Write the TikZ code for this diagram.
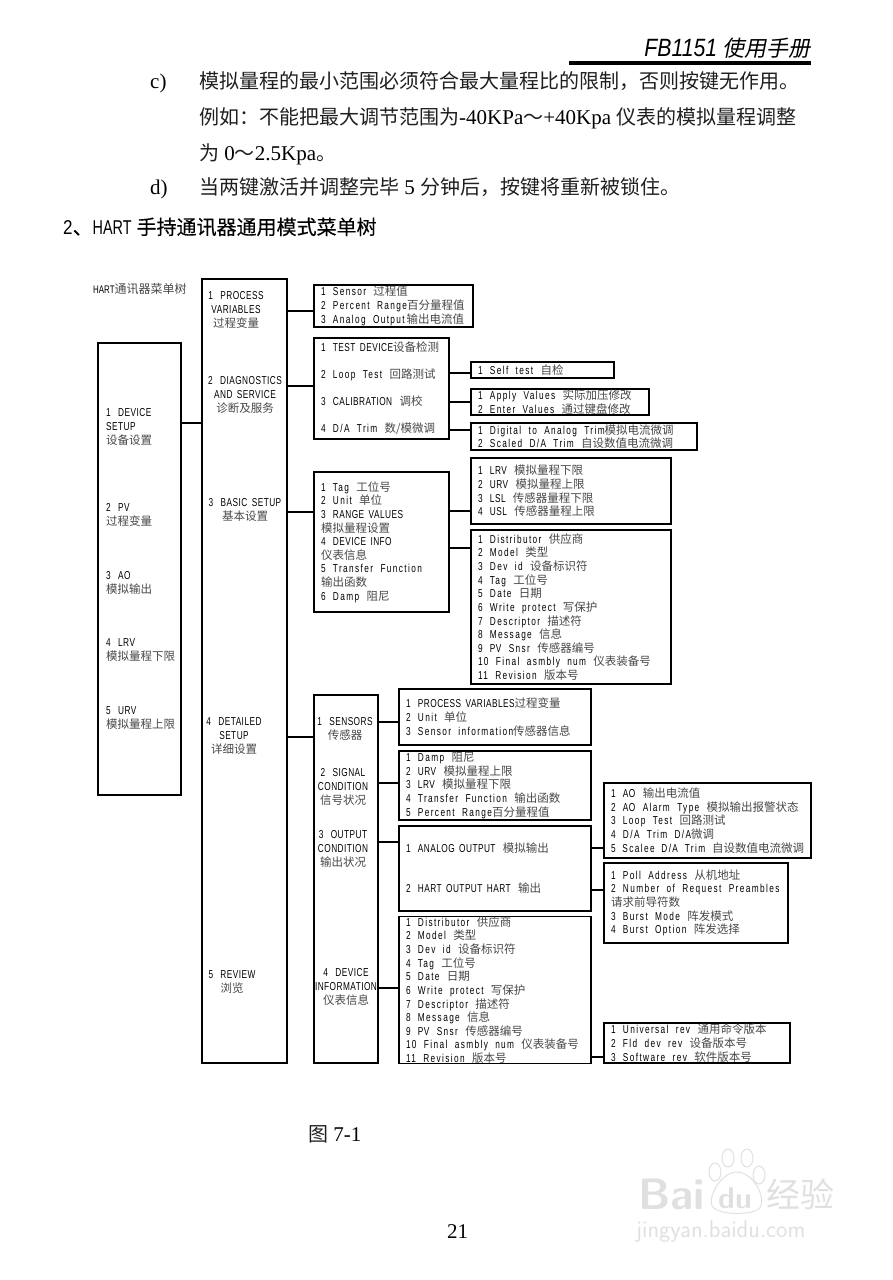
\documentclass[tikz,border=0pt]{standalone}
\usepackage{fontspec}
\usepackage{tikz}
\usetikzlibrary{positioning,calc}

\setmainfont{Liberation Serif}
\newfontfamily\menufont[FakeStretch=0.72,LetterSpace=12,WordSpace=2]{Liberation Sans}
\newfontfamily\capsfont[FakeStretch=0.72,LetterSpace=4,WordSpace=1.6]{Liberation Sans}
\newfontfamily\headfont[FakeStretch=0.85]{Liberation Sans}
\newfontfamily\titlefont[FakeStretch=0.72]{Liberation Sans}
\newfontfamily\cjkfont{Noto Sans CJK SC}
\newfontfamily\cjkhead[FakeBold=0.3]{Noto Sans CJK SC}
\newfontfamily\cjkslant[FakeSlant=0.2]{Noto Sans CJK SC}
\newcommand{\cn}[1]{{\cjkfont\fontsize{20}{24}\selectfont\color{black!88}#1}}
\newcommand{\zh}[1]{{\cjkfont\color{black!72}#1}}
\newcommand{\up}[1]{{\capsfont #1}}

\tikzset{
  menutext/.style = {font=\menufont\fontsize{11.5}{13.65}\selectfont, align=left, inner sep=0pt},
  menubox/.style  = {menutext, align=flush left, draw, line width=1.1pt, inner xsep=7pt, inner ysep=0pt},
  plainbox/.style = {draw, line width=1.1pt, inner sep=0pt},
  centered/.style = {menutext, align=center},
  link/.style     = {line width=1.1pt},
  bodyline/.style = {font=\fontsize{21}{24}\selectfont, inner sep=0pt, anchor=west},
  wmark/.style    = {black!12, inner sep=0pt}
}

\begin{document}
\begin{tikzpicture}[x=1pt, y=-1pt]
  \useasboundingbox (0,0) rectangle (892,1280);

  % page head
  \node[inner sep=0pt, anchor=east, font=\fontsize{22}{24}\selectfont] (head) at (811,48)
    {{\fontsize{25}{26}\selectfont\headfont\itshape FB1151} {\cjkslant 使用手册}};
  \coordinate (headL) at (569,63);
  \draw[line width=3.6pt] (headL) -- (head.east |- headL);

  \node[bodyline] (itemc) at (150,83) {c)};
  \node[bodyline] (linea) at (199,81) {\cn{模拟量程的最小范围必须符合最大量程比的限制，否则按键无作用。}};
  \node[bodyline] (lineb) at (199,118) {\cn{例如：不能把最大调节范围为}-40KPa\cn{～}+40Kpa \cn{仪表的模拟量程调整}};
  \node[bodyline] (linec) at (199,154) {\cn{为} 0\cn{～}2.5Kpa\cn{。}};
  \node[bodyline] (itemd) at (150,189) {d)};
  \node[bodyline] (lined) at (199,187) {\cn{当两键激活并调整完毕} 5 \cn{分钟后，按键将重新被锁住。}};
  \node[inner sep=0pt, anchor=west, font=\fontsize{20}{22}\selectfont] (heading) at (63,227)
    {{\headfont 2}{\cjkhead 、}{\titlefont HART} {\cjkhead 手持通讯器通用模式菜单树}};

  \node[menutext, anchor=west] (treetitle) at (93,289) {{\titlefont\fontsize{11}{12}\selectfont HART}{\fontsize{12}{13}\selectfont\zh{通讯器菜单树}}};

  % first column
  \node[plainbox, minimum width=83pt, minimum height=452pt] (rootbox) at (139.5,569) {};
  \node[menutext, anchor=west] (rootA) at (106,427) {1 \up{DEVICE}\\\up{SETUP}\\\zh{设备设置}};
  \node[menutext, anchor=west] (rootB) at (106,515) {2 \up{PV}\\\zh{过程变量}};
  \node[menutext, anchor=west] (rootC) at (106,583) {3 \up{AO}\\\zh{模拟输出}};
  \node[menutext, anchor=west] (rootD) at (106,650) {4 \up{LRV}\\\zh{模拟量程下限}};
  \node[menutext, anchor=west] (rootE) at (106,718) {5 \up{URV}\\\zh{模拟量程上限}};

  % second column
  \node[plainbox, minimum width=85pt, minimum height=784pt] (mainbox) at (244.5,671) {};
  \node[centered] (mainA) at (236,310) {1 \up{PROCESS}\\\up{VARIABLES}\\\zh{过程变量}};
  \node[centered] (mainB) at (245,395) {2 \up{DIAGNOSTICS}\\\up{AND SERVICE}\\\zh{诊断及服务}};
  \node[centered] (mainC) at (245,510) {3 \up{BASIC SETUP}\\\zh{基本设置}};
  \node[centered] (mainD) at (234,736) {4 \up{DETAILED}\\\up{SETUP}\\\zh{详细设置}};
  \node[centered] (mainE) at (232,982) {5 \up{REVIEW}\\\zh{浏览}};

  % third column, top
  \node[menubox, text width=145pt, minimum height=42pt] (sensorbox) at (393.5,306)
    {1 Sensor \zh{过程值}\\2 Percent Range\zh{百分量程值}\\3 Analog Output\,\zh{输出电流值}};
  \node[menubox, text width=121pt, minimum height=101pt] (testbox) at (381.5,388.5)
    {1 \up{TEST DEVICE}\zh{设备检测}\\[13.4pt]2 Loop Test \zh{回路测试}\\[13.4pt]3 \up{CALIBRATION} \zh{调校}\\[13.4pt]4 D/A Trim \zh{数/模微调}};
  \node[menubox, text width=121pt, minimum height=140pt] (basicbox) at (381.5,542)
    {1 Tag \zh{工位号}\\2 Unit \zh{单位}\\3 \up{RANGE VALUES}\\\zh{模拟量程设置}\\4 \up{DEVICE INFO}\\\zh{仪表信息}\\5 Transfer Function\\\zh{输出函数}\\6 Damp \zh{阻尼}};

  \node[menubox, text width=129pt, minimum height=16pt] (selfbox) at (542.5,370) {1 Self test \zh{自检}};
  \node[menubox, text width=164pt, minimum height=26pt] (applybox) at (560,402)
    {1 Apply Values \zh{实际加压修改}\\2 Enter Values \zh{通过键盘修改}};
  \node[menubox, text width=212pt, minimum height=27pt] (digitalbox) at (584,436.5)
    {1 Digital to Analog Trim\zh{模拟电流微调}\\2 Scaled D/A Trim \zh{自设数值电流微调}};
  \node[menubox, text width=186pt, minimum height=66pt] (lrvbox) at (571,491)
    {1 \up{LRV} \zh{模拟量程下限}\\2 \up{URV} \zh{模拟量程上限}\\3 \up{LSL} \zh{传感器量程下限}\\4 \up{USL} \zh{传感器量程上限}};
  \node[menubox, text width=186pt, minimum height=154pt] (distribbox) at (571,607)
    {1 Distributor \zh{供应商}\\2 Model \zh{类型}\\3 Dev id \zh{设备标识符}\\4 Tag \zh{工位号}\\5 Date \zh{日期}\\6 Write protect \zh{写保护}\\7 Descriptor \zh{描述符}\\8 Message \zh{信息}\\9 \up{PV} Snsr \zh{传感器编号}\\10 Final asmbly num \zh{仪表装备号}\\11 Revision \zh{版本号}};

  % third column, detailed setup
  \node[plainbox, minimum width=64pt, minimum height=368pt] (detailbox) at (346,879) {};
  \node[centered] (detailA) at (345,729) {1 \up{SENSORS}\\\zh{传感器}};
  \node[centered] (detailB) at (343,787) {2 \up{SIGNAL}\\\up{CONDITION}\\\zh{信号状况}};
  \node[centered] (detailC) at (343,849) {3 \up{OUTPUT}\\\up{CONDITION}\\\zh{输出状况}};
  \node[centered] (detailD) at (346,987) {4 \up{DEVICE}\\\up{INFORMATION}\\\zh{仪表信息}};

  \node[menubox, text width=178pt, minimum height=56pt] (varsbox) at (495,717)
    {1 \up{PROCESS VARIABLES}\zh{过程变量}\\2 Unit \zh{单位}\\3 Sensor information\zh{传感器信息}};
  \node[menubox, text width=178pt, minimum height=69pt] (signalbox) at (495,785.5)
    {1 Damp \zh{阻尼}\\2 \up{URV} \zh{模拟量程上限}\\3 \up{LRV} \zh{模拟量程下限}\\4 Transfer Function \zh{输出函数}\\5 Percent Range\zh{百分量程值}};
  \node[menubox, text width=178pt, minimum height=85pt] (outbox) at (495,868.5)
    {1 \up{ANALOG OUTPUT} \zh{模拟输出}\\[26.4pt]2 \up{HART OUTPUT HART} \zh{输出}};
  \node[menubox, text width=178pt, minimum height=146pt] (infobox) at (495,990)
    {1 Distributor \zh{供应商}\\2 Model \zh{类型}\\3 Dev id \zh{设备标识符}\\4 Tag \zh{工位号}\\5 Date \zh{日期}\\6 Write protect \zh{写保护}\\7 Descriptor \zh{描述符}\\8 Message \zh{信息}\\9 \up{PV} Snsr \zh{传感器编号}\\10 Final asmbly num \zh{仪表装备号}\\11 Revision \zh{版本号}};

  \node[menubox, text width=193pt, minimum height=75pt] (aobox) at (707.5,820.5)
    {1 \up{AO} \zh{输出电流值}\\2 \up{AO} Alarm Type \zh{模拟输出报警状态}\\3 Loop Test \zh{回路测试}\\4 D/A Trim D/A\zh{微调}\\5 Scalee D/A Trim \zh{自设数值电流微调}};
  \node[menubox, text width=170pt, minimum height=80pt] (pollbox) at (696,903)
    {1 Poll Address \zh{从机地址}\\2 Number of Request Preambles\\\zh{请求前导符数}\\3 Burst Mode \zh{阵发模式}\\4 Burst Option \zh{阵发选择}};
  \node[menubox, text width=172pt, minimum height=40pt] (univbox) at (697,1043)
    {1 Universal rev \zh{通用命令版本}\\2 Fld dev rev \zh{设备版本号}\\3 Software rev \zh{软件版本号}};

  % connector heights
  \coordinate (y1) at (0,423);
  \coordinate (y2) at (0,311);
  \coordinate (y3) at (0,386);
  \coordinate (y4) at (0,512);
  \coordinate (y5) at (0,737);
  \coordinate (y6) at (0,373);
  \coordinate (y7) at (0,402);
  \coordinate (y8) at (0,430);
  \coordinate (y9) at (0,511);
  \coordinate (y10) at (0,548);
  \coordinate (y11) at (0,722);
  \coordinate (y12) at (0,783);
  \coordinate (y13) at (0,842);
  \coordinate (y14) at (0,988);
  \coordinate (y15) at (0,848);
  \coordinate (y16) at (0,890);
  \coordinate (y17) at (0,1057);

  \draw[link] (rootbox.east |- y1) -- (mainbox.west |- y1);
  \draw[link] (mainbox.east |- y2) -- (sensorbox.west |- y2);
  \draw[link] (mainbox.east |- y3) -- (testbox.west |- y3);
  \draw[link] (mainbox.east |- y4) -- (basicbox.west |- y4);
  \draw[link] (mainbox.east |- y5) -- (detailbox.west |- y5);
  \draw[link] (testbox.east |- y6) -- (selfbox.west |- y6);
  \draw[link] (testbox.east |- y7) -- (applybox.west |- y7);
  \draw[link] (testbox.east |- y8) -- (digitalbox.west |- y8);
  \draw[link] (basicbox.east |- y9) -- (lrvbox.west |- y9);
  \draw[link] (basicbox.east |- y10) -- (distribbox.west |- y10);
  \draw[link] (detailbox.east |- y11) -- (varsbox.west |- y11);
  \draw[link] (detailbox.east |- y12) -- (signalbox.west |- y12);
  \draw[link] (detailbox.east |- y13) -- (outbox.west |- y13);
  \draw[link] (detailbox.east |- y14) -- (infobox.west |- y14);
  \draw[link] (outbox.east |- y15) -- (aobox.west |- y15);
  \draw[link] (outbox.east |- y16) -- (pollbox.west |- y16);
  \draw[link] (infobox.east |- y17) -- (univbox.west |- y17);

  % foot of the page
  \node[bodyline] (figlabel) at (308,1134) {\cn{图} 7-1};
  \node[bodyline] (pagenum) at (447,1232) {21};

  % watermark
  \node[wmark, anchor=west, font=\fontsize{44}{46}\selectfont\sffamily\bfseries] (wmbai) at (638,1194) {Bai};
  \node[wmark, anchor=west, font=\fontsize{30}{32}\selectfont\sffamily\bfseries] (wmdu) at (718,1198) {du};
  \node[wmark, anchor=west, font=\fontsize{34}{36}\selectfont\cjkfont] (wmjing) at (766,1194) {经验};
  \node[wmark, anchor=west, font=\fontsize{24}{26}\selectfont\sffamily] (wmurl) at (636,1232) {jingyan.baidu.com};
  \draw[black!12, line width=1pt] (715,1172) ellipse (6pt and 9pt);
  \draw[black!12, line width=1pt] (728,1158) ellipse (6pt and 9pt);
  \draw[black!12, line width=1pt] (747,1158) ellipse (6pt and 9pt);
  \draw[black!12, line width=1pt] (759,1175) ellipse (6pt and 9pt);
  \draw[black!12, line width=1pt] (737,1172) .. controls (752,1172) and (765,1195) .. (761,1206)
    .. controls (757,1216) and (718,1216) .. (712,1206) .. controls (708,1195) and (722,1172) .. (737,1172);
\end{tikzpicture}
\end{document}
